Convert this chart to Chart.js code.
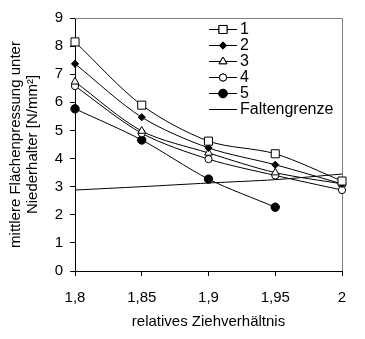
<!DOCTYPE html>
<html>
<head>
  <meta charset="utf-8">
  <title>Flächenpressung</title>
  <script src="https://cdn.jsdelivr.net/npm/chart.js@4/dist/chart.umd.min.js"></script>
  <style>
    html, body { margin: 0; padding: 0; background: #fff; }
    #wrap { width: 365px; height: 339px; }
  </style>
</head>
<body>
  <div id="wrap"><canvas id="myChart" width="365" height="339"></canvas></div>
  <script>
    const categories = ['1,8', '1,85', '1,9', '1,95', '2'];
    const seriesNames = ['1', '2', '3', '4', '5', 'Faltengrenze'];
    const s1 = [8.15, 5.9, 4.62, 4.17, 3.2];
    const s2 = [7.37, 5.47, 4.38, 3.78, 3.1];
    const s3 = [6.73, 4.98, 4.2, 3.5, 3.1];
    const s4 = [6.58, 4.9, 3.98, 3.4, 2.88];
    const s5 = [5.77, 4.66, 3.27, 2.27, null];
    const falten = [2.88, 3.0, 3.13, 3.25, 3.45];
    const yTicks = [0, 1, 2, 3, 4, 5, 6, 7, 8, 9];

    const FONT = '"Liberation Sans", Arial, sans-serif';

    function ds(label, data, style, radius, fill) {
      return {
        label: label, data: data,
        borderColor: '#000', borderWidth: 1,
        tension: 0.3,
        pointStyle: style, pointRadius: radius,
        pointBackgroundColor: fill, pointBorderColor: '#000', pointBorderWidth: 1,
        spanGaps: false
      };
    }

    // legend drawn by hand, vertical list at the upper right of the plot
    const legendPlugin = {
      id: 'handLegend',
      afterDraw(chart) {
        const ctx = chart.ctx;
        ctx.save();
        ctx.font = '16px ' + FONT;
        ctx.textBaseline = 'middle';
        ctx.fillStyle = '#000';
        chart.data.datasets.forEach((d, i) => {
          const y = 29 + i * 16;
          ctx.strokeStyle = '#000';
          ctx.lineWidth = 1;
          ctx.beginPath();
          ctx.moveTo(209, y + 0.5);
          ctx.lineTo(237, y + 0.5);
          ctx.stroke();
          if (d.pointRadius > 0) {
            ctx.fillStyle = d.pointBackgroundColor;
            Chart.helpers.drawPoint(ctx, {
              pointStyle: d.pointStyle, radius: d.pointRadius,
              rotation: 0, borderWidth: 1
            }, 223, y + 0.5);
            ctx.fill();
            ctx.stroke();
          }
          ctx.fillStyle = '#000';
          ctx.fillText(d.label, 240, y + 1);
        });
        ctx.restore();
      }
    };

    // grey frame on top and right of the plot area
    const framePlugin = {
      id: 'frame',
      beforeDatasetsDraw(chart) {
        const a = chart.chartArea;
        const ctx = chart.ctx;
        ctx.save();
        ctx.strokeStyle = '#808080';
        ctx.lineWidth = 1;
        ctx.beginPath();
        ctx.moveTo(a.left, a.top + 0.5);
        ctx.lineTo(a.right + 0.5, a.top + 0.5);
        ctx.lineTo(a.right + 0.5, a.bottom);
        ctx.stroke();
        ctx.restore();
      }
    };

    const chart = new Chart(document.getElementById('myChart'), {
      type: 'line',
      data: {
        labels: categories,
        datasets: [
          ds(seriesNames[0], s1, 'rect', 5.7, '#fff'),
          ds(seriesNames[1], s2, 'rectRot', 3.6, '#000'),
          ds(seriesNames[2], s3, 'triangle', 4.5, '#fff'),
          ds(seriesNames[3], s4, 'circle', 3.6, '#fff'),
          ds(seriesNames[4], s5, 'circle', 4.2, '#000'),
          ds(seriesNames[5], falten, 'circle', 0, '#000')
        ]
      },
      options: {
        responsive: false,
        animation: false,
        layout: { padding: { left: 0, top: 18, right: 23, bottom: 0 } },
        plugins: {
          legend: { display: false },
          tooltip: { enabled: false }
        },
        scales: {
          x: {
            type: 'category',
            offset: false,
            grid: { display: true, drawOnChartArea: false, drawTicks: true, tickLength: 5, color: '#000' },
            border: { color: '#000' },
            ticks: { color: '#000', font: { family: FONT, size: 15 }, padding: 13, maxRotation: 0 },
            title: { display: true, text: 'relatives Ziehverhältnis', color: '#000', font: { family: FONT, size: 15 }, padding: { top: 4, bottom: 8 } },
            afterFit(scale) { scale.height = 68; }
          },
          y: {
            min: 0, max: 9,
            afterBuildTicks(scale) { scale.ticks = yTicks.map(v => ({ value: v })); },
            grid: { display: true, drawOnChartArea: false, drawTicks: true, tickLength: 5, color: '#000' },
            border: { color: '#000' },
            ticks: { color: '#000', font: { family: FONT, size: 15 }, padding: 7 },
            title: {
              display: true,
              text: ['mittlere Flächenpressung unter', 'Niederhalter [N/mm²]'],
              color: '#000', font: { family: FONT, size: 15, lineHeight: 1.15 }, padding: { top: 7, bottom: 0 }
            },
            afterFit(scale) { scale.width = 75; }
          }
        }
      },
      plugins: [framePlugin, legendPlugin]
    });
  </script>
</body>
</html>
